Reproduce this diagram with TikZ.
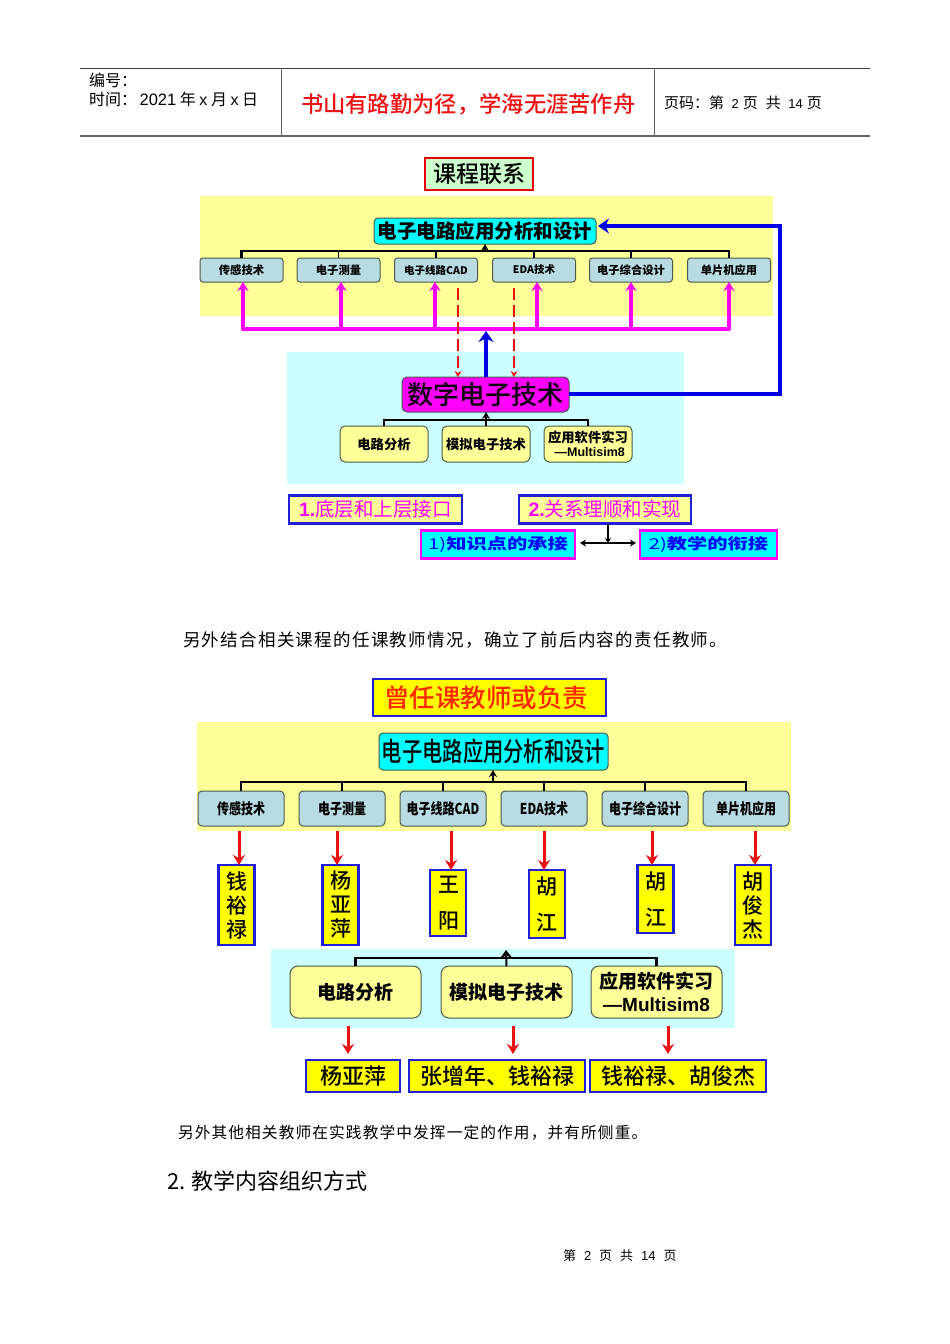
\documentclass[tikz,border=0pt]{standalone}
\usepackage{fontspec}
\usepackage{graphicx}
\usetikzlibrary{arrows.meta}
\setmainfont{Noto Sans CJK SC}
\newfontfamily\lat{Liberation Sans}
\newfontfamily\trk[LetterSpace=7.5]{Noto Sans CJK SC}
\newfontfamily\trkb[LetterSpace=7]{Noto Sans CJK SC}
\newfontfamily\med[UprightFont={* Medium}]{Noto Sans CJK SC}
\newcommand{\fsz}[1]{\fontsize{#1}{#1}\selectfont}
\newcommand{\tallt}[1]{\scalebox{1}[1.25]{#1}}
\newcommand{\widet}[1]{\scalebox{1.35}[1]{#1}}
\definecolor{bgy}{HTML}{FFFF99}
\definecolor{bgc}{HTML}{CCFFFF}
\definecolor{kidb}{HTML}{B9DCE2}
\definecolor{kidy}{HTML}{FFFF99}
\definecolor{edge}{HTML}{4A5A4A}
\definecolor{mag}{HTML}{FF00FF}
\definecolor{blu}{HTML}{0000E6}
\definecolor{bluebd}{HTML}{1F1FD8}
\definecolor{redc}{HTML}{EE1111}
\definecolor{cyn}{HTML}{00FFFF}
\definecolor{yel}{HTML}{FFFF00}
\tikzset{
  box/.style={inner sep=0pt,outer sep=0pt,align=center,text=black},
  topn/.style={box,draw=edge,line width=1pt,fill=cyn,rounded corners=4pt},
  kidA/.style={box,draw=edge,line width=1pt,fill=kidb,rounded corners=3pt,minimum width=83pt,minimum height=24pt,font=\fsz{11.3}\bfseries},
  kidB/.style={box,draw=edge,line width=1pt,fill=kidb,rounded corners=4pt,minimum width=86pt,minimum height=35pt,font=\fsz{12}\bfseries},
  lowA/.style={box,draw=edge,line width=1pt,fill=kidy,rounded corners=5pt,minimum width=88pt,minimum height=36pt,font=\fsz{13.3}\bfseries,align=center},
  lowB/.style={box,draw=edge,line width=1pt,fill=kidy,rounded corners=8pt,minimum width=131pt,minimum height=52pt,font=\fsz{19}\bfseries,align=center},
  labA/.style={box,draw=bluebd,line width=2.5pt,fill=kidy,minimum height=28pt,text=mag,font=\fsz{19.5}},
  labB/.style={box,draw=mag,line width=2.5pt,fill=cyn,minimum height=28pt,text=blue,font=\fsz{15}\bfseries},
  tname/.style={box,draw=bluebd,line width=2.5pt,fill=yel,font=\fsz{21}\med,minimum width=36pt},
  nameh/.style={box,draw=bluebd,line width=2.5pt,fill=yel,font=\fsz{22}\med,minimum height=32pt},
  busl/.style={draw=black,line width=2.5pt},
  thinl/.style={draw=black,line width=1.2pt},
  upa/.style={-{Stealth[length=7pt,width=8pt]}},
  upb/.style={-{Stealth[length=8pt,width=12pt]}},
  magl/.style={draw=mag,line width=4pt},
  maga/.style={magl,-{Stealth[length=9pt,width=11pt]}},
  blul/.style={draw=blu,line width=4.5pt,-{Stealth[length=11pt,width=15pt]}},
  reda/.style={draw=redc,line width=3pt,-{Stealth[length=10pt,width=12pt]}},
  redda/.style={draw=redc,line width=2pt,dash pattern=on 12pt off 5pt,-{Stealth[length=6pt,width=7pt]}},
  rulel/.style={draw=black!75,line width=1pt},
  txt/.style={inner sep=0pt,outer sep=0pt,anchor=west},
}
\begin{document}
\begin{tikzpicture}[x=1pt,y=-1pt]
\useasboundingbox (0,0) rectangle (950,1344);
\fill[white] (0,0) rectangle (950,1344);
% header
\coordinate (hl) at (80,68); \coordinate (hr) at (870,68);
\coordinate (bl) at (80,136); \coordinate (br) at (870,136);
\coordinate (v1a) at (281,68); \coordinate (v1b) at (281,136);
\coordinate (v2a) at (654,68); \coordinate (v2b) at (654,136);
\draw[rulel] (hl) -- (hr);
\draw[rulel,line width=1.3pt,draw=black!60] (bl) -- (br);
\draw[rulel,draw=black!60] (v1a) -- (v1b);
\draw[rulel,draw=black!60] (v2a) -- (v2b);
\node[txt] (hd1) at (89,80) {\fsz{16}编号：};
\node[txt] (hd2) at (89,99) {\fsz{16}时间：\hspace{-2pt}{\lat\fsz{16.5} 2021} 年 {\lat x} 月 {\lat x} 日};
\node[txt,text=redc] (hd3) at (301,104) {\fsz{22.3}\med 书山有路勤为径，学海无涯苦作舟};
\node[txt] (hd4) at (664,103) {\fsz{15}页码：第\hspace{4pt}{\lat\fsz{13} 2}\hspace{4pt}页\hspace{8pt}共\hspace{4pt}{\lat\fsz{13} 14}\hspace{4pt}页};
% === first diagram
\fill[bgy] (200,196) rectangle (773,316);
\fill[bgc] (287,352) rectangle (684,484);
\node[box,draw=red!90!black,line width=2.5pt,fill=green!20,minimum width=108pt,minimum height=32pt,font=\fsz{23}\med] (t1) at (479,174) {课程联系};
\node[topn,minimum width=222pt,minimum height=26pt,font=\fsz{19.5}\bfseries] (top) at (485,231) {电子电路应用分析和设计};
\node[kidA] (a1) at (241.5,270) {传感技术};
\node[kidA] (a2) at (338.5,270) {电子测量};
\node[kidA,font=\fsz{10.5}\bfseries] (a3) at (436,270) {电子线路CAD};
\node[kidA,font=\fsz{10.5}\bfseries] (a4) at (534,270) {EDA技术};
\node[kidA] (a5) at (631,270) {电子综合设计};
\node[kidA] (a6) at (729,270) {单片机应用};
\coordinate (bj) at (485,251);
\draw[busl] (a1.north) -- (a1.north |- bj) -- (a6.north |- bj) -- (a6.north);
\foreach \k in {2,3,4,5} \draw[thinl] (a\k.north) -- (a\k.north |- bj);
\draw[thinl,upa] (bj) -- (top.south);
\node[box,draw=edge,line width=1pt,fill=mag,rounded corners=5pt,minimum width=167pt,minimum height=35pt,font=\fsz{26}\med] (dig) at (485.5,394.5) {数字电子技术};
\node[lowA] (b1) at (384,444) {电路分析};
\node[lowA] (b2) at (486,444) {模拟电子技术};
\node[lowA] (b3) at (588,444) {应用软件实习\\[1pt]{\lat\fsz{12.5} —Multisim8}};
\coordinate (bk) at (486,420);
\draw[busl] (b1.north) -- (b1.north |- bk) -- (b3.north |- bk) -- (b3.north);
\draw[thinl,line width=2pt,upa] (b2.north) -- (dig.south -| b2.north);
% magenta
\coordinate (m1) at (243,329); \coordinate (m2) at (341,329); \coordinate (m3) at (435,329);
\coordinate (m4) at (537,329); \coordinate (m5) at (631,329); \coordinate (m6) at (729,329);
\draw[magl,line cap=round] (m1) -- (m6);
\foreach \k in {1,...,6} \draw[maga] (m\k) -- (m\k |- a\k.south);
% red dashed
\coordinate (r1) at (458,288); \coordinate (r2) at (514,288);
\draw[redda] (r1) -- (r1 |- dig.north);
\draw[redda] (r2) -- (r2 |- dig.north);
% blue
\coordinate (u1) at (486,331);
\draw[blul] (dig.north -| u1) -- (u1);
\coordinate (c1) at (780,394); \coordinate (c2) at (780,226); \coordinate (c3) at (598,226);
\draw[blul,line join=miter] (dig.east |- c1) -- (c1) -- (c2) -- (c3);
% labels
\node[labA,minimum width=173pt] (l1) at (375.5,509.5) {{\lat\bfseries 1.}底层和上层接口};
\node[labA,minimum width=172pt] (l2) at (605,509.5) {{\lat\bfseries 2.}关系理顺和实现};
\node[labB,minimum width=154pt] (l3) at (498,544.5) {\widet{{\mdseries 1)}知识点的承接}};
\node[labB,minimum width=137pt] (l4) at (708.5,544.5) {\widet{{\mdseries 2)}教学的衔接}};
\coordinate (j) at (608,543); \coordinate (ja) at (580,543); \coordinate (jb) at (636,543);
\draw[thinl,line width=1.5pt,{Stealth[length=6pt,width=7pt]}-{Stealth[length=6pt,width=7pt]}] (ja) -- (jb);
\draw[thinl,line width=1.5pt,-{Stealth[length=5pt,width=6pt]}] (l2.south -| j) -- (j);
\node[txt] (p1) at (183,640) {\fsz{17.5}\trk 另外结合相关课程的任课教师情况，确立了前后内容的责任教师。};
% === second diagram
\fill[bgy] (197,722) rectangle (791,831);
\fill[bgc] (271,949) rectangle (735,1028);
\node[box,draw=bluebd,line width=2.5pt,fill=yel,minimum width=233pt,minimum height=37pt,text=red!85!yellow,font=\fsz{25.5}\med] (t2) at (489.5,697.5) {\hspace{-7pt}曾任课教师或负责};
\node[topn,minimum width=229pt,minimum height=37pt,font=\fsz{20.3}\med] (top2) at (493.5,751.5) {\scalebox{1}[1.3]{电子电路应用分析和设计}};
\node[kidB] (k1) at (241,808.5) {\tallt{传感技术}};
\node[kidB] (k2) at (342,808.5) {\tallt{电子测量}};
\node[kidB] (k3) at (443,808.5) {\tallt{电子线路CAD}};
\node[kidB] (k4) at (544,808.5) {\tallt{EDA技术}};
\node[kidB] (k5) at (645,808.5) {\tallt{电子综合设计}};
\node[kidB] (k6) at (746,808.5) {\tallt{单片机应用}};
\coordinate (bj2) at (493,782);
\draw[busl] (k1.north) -- (k1.north |- bj2) -- (k6.north |- bj2) -- (k6.north);
\foreach \k in {2,3,4,5} \draw[thinl] (k\k.north) -- (k\k.north |- bj2);
\draw[thinl,upa] (bj2) -- (top2.south -| bj2);
% teachers
\node[tname,minimum height=80pt] (n1) at (236.5,905) {钱\\[3pt]裕\\[3pt]禄};
\node[tname,minimum height=80pt] (n2) at (340.5,905) {杨\\[3pt]亚\\[3pt]萍};
\node[tname,minimum height=66pt] (n3) at (448,903) {\hspace{2pt}王\\[15pt]\hspace{2pt}阳};
\node[tname,minimum height=68pt] (n4) at (547,904) {胡\\[15pt]江};
\node[tname,minimum height=68pt] (n5) at (655.5,899) {胡\\[15pt]江};
\node[tname,minimum height=80pt] (n6) at (753,905) {胡\\[3pt]俊\\[3pt]杰};
\coordinate (ra1) at (239,831); \coordinate (ra2) at (337,831); \coordinate (ra3) at (451,831);
\coordinate (ra4) at (544,831); \coordinate (ra5) at (652,831); \coordinate (ra6) at (755,831);
\foreach \k in {1,...,6} \draw[reda] (ra\k) -- (ra\k |- n\k.north);
% lower
\node[lowB] (d1) at (355.5,992) {电路分析};
\node[lowB] (d2) at (506.5,992) {模拟电子技术};
\node[lowB] (d3) at (656.5,992) {应用软件实习\\[4pt]{\lat —Multisim8}};
\coordinate (bk2) at (506,958); \coordinate (bk3) at (506,950);
\draw[busl] (d1.north) -- (d1.north |- bk2) -- (d3.north |- bk2) -- (d3.north);
\draw[thinl,line width=2pt,upb] (d2.north) -- (bk3);
\node[nameh,minimum width=94pt] (e1) at (353,1076) {杨亚萍};
\node[nameh,minimum width=176pt] (e2) at (497,1076) {张增年、钱裕禄};
\node[nameh,minimum width=176pt] (e3) at (678,1076) {钱裕禄、胡俊杰};
\coordinate (s1) at (348,1026); \coordinate (s2) at (513,1026); \coordinate (s3) at (668,1026);
\coordinate (s1e) at (348,1054); \coordinate (s2e) at (513,1054); \coordinate (s3e) at (668,1054);
\draw[reda] (s1) -- (s1e); \draw[reda] (s2) -- (s2e); \draw[reda] (s3) -- (s3e);
% paragraphs
\node[txt] (p2) at (178,1133) {\fsz{15.7}\trkb 另外其他相关教师在实践教学中发挥一定的作用，并有所侧重。};
\node[txt] (p3) at (167,1181) {\fsz{22}2. 教学内容组织方式};
\node[txt] (p4) at (563,1256) {\fsz{13}第\hspace{8pt}{\lat 2}\hspace{8pt}页\hspace{8pt}共\hspace{8pt}{\lat 14}\hspace{8pt}页};
\end{tikzpicture}
\end{document}
